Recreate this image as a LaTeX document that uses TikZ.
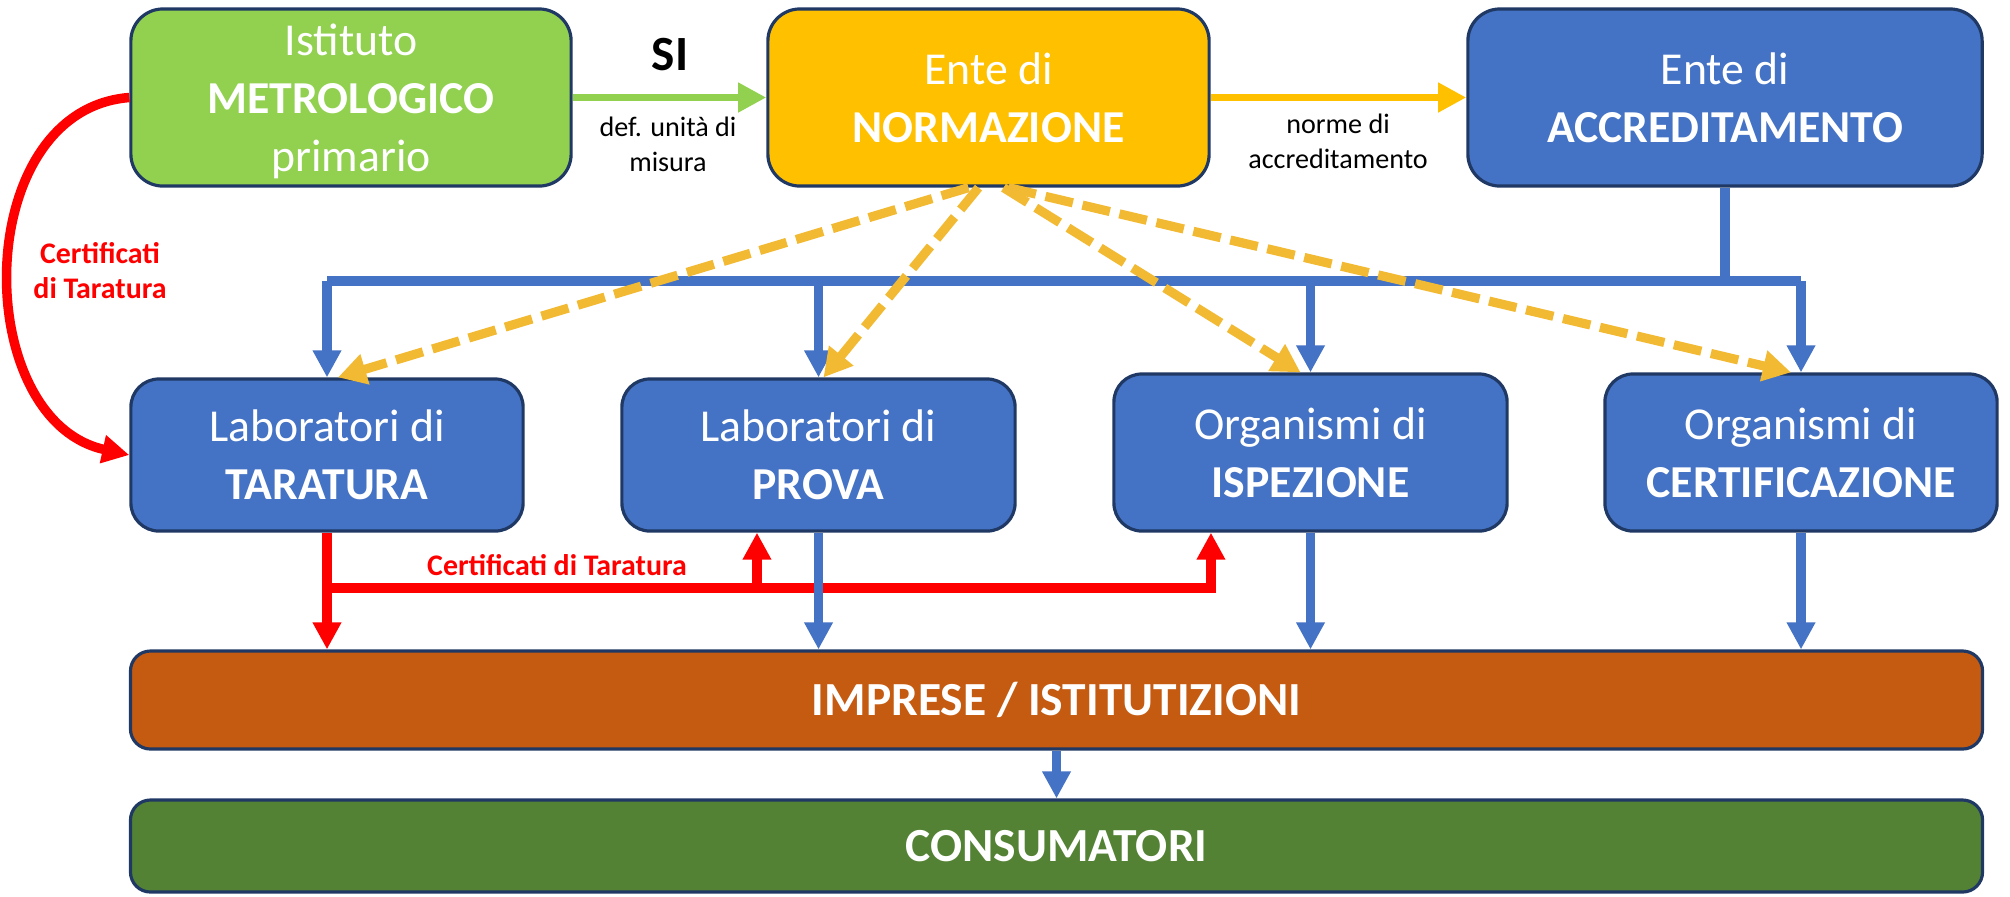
\documentclass[tikz,border=0pt]{standalone}
\usepackage{fontspec}
\setmainfont{Carlito}
\usepackage{tikz}
\usetikzlibrary{arrows.meta,positioning,calc}
\definecolor{istgreen}{HTML}{92D050}
\definecolor{normorange}{HTML}{FFC000}
\definecolor{accblue}{HTML}{4472C4}
\definecolor{impbrown}{HTML}{C55A11}
\definecolor{congreen}{HTML}{548235}
\definecolor{boxline}{HTML}{1F3864}
\definecolor{dashyellow}{HTML}{F2B933}
\definecolor{certred}{HTML}{FF0000}
\tikzstyle{box}=[draw=boxline, line width=0.9pt, rounded corners=0.32cm, text=white, align=center, inner sep=0pt, font=\fontsize{13}{16.5}\selectfont]
\tikzstyle{smalltext}=[align=center, inner sep=0pt, font=\fontsize{8}{10}\selectfont]

\begin{document}
\begin{tikzpicture}[x=0.01cm,y=-0.01cm,
  bluearr/.style={accblue, line width=2.6pt, -{Triangle[length=7.7pt,width=7.7pt]}},
  redarr/.style={certred, line width=2.7pt, -{Triangle[length=7.7pt,width=7.7pt]}},
  normarr/.style={dashyellow, line width=2.6pt, dash pattern=on 8pt off 2.8pt, -{Triangle[length=8pt,width=8.5pt]}},
  redlabel/.style={certred, align=center, inner sep=0pt, font=\fontsize{8.5}{10}\selectfont\bfseries}]
\useasboundingbox (0,0) rectangle (2010,896);
% top row
\node (ist) at (351,97.5) [box, fill=istgreen, minimum width=4.4cm, minimum height=1.77cm, text depth=0pt] {Istituto\\\textbf{METROLOGICO}\\primario};
\node (nor) at (988.5,97.5) [box, fill=normorange, minimum width=4.41cm, minimum height=1.77cm] {Ente di\\\textbf{NORMAZIONE}};
\node (acc) at (1725,97.5) [box, fill=accblue, minimum width=5.14cm, minimum height=1.77cm] {Ente di\\\textbf{ACCREDITAMENTO}};
% middle row
\node (tar) at (327,455) [box, fill=accblue, rounded corners=0.28cm, minimum width=3.92cm, minimum height=1.52cm] {Laboratori di\\\textbf{TARATURA}};
\node (pro) at (818.5,455) [box, fill=accblue, rounded corners=0.28cm, minimum width=3.93cm, minimum height=1.52cm] {Laboratori di\\\textbf{PROVA}};
\node (isp) at (1310.5,452.5) [box, fill=accblue, rounded corners=0.28cm, minimum width=3.93cm, minimum height=1.57cm] {Organismi di\\\textbf{ISPEZIONE}};
\node (cer) at (1801,452.5) [box, fill=accblue, rounded corners=0.28cm, minimum width=3.92cm, minimum height=1.57cm] {Organismi di\\\textbf{CERTIFICAZIONE}};
% bottom rows
\node (imp) at (1056.5,700) [box, fill=impbrown, rounded corners=0.2cm, minimum width=18.51cm, minimum height=0.98cm, font=\fontsize{13.5}{16}\selectfont\bfseries] {IMPRESE / ISTITUTIZIONI};
\node (con) at (1056.5,846) [box, fill=congreen, rounded corners=0.2cm, minimum width=18.51cm, minimum height=0.92cm, font=\fontsize{13.5}{16}\selectfont\bfseries] {CONSUMATORI};
% labels
\node (si) at (670,55) [inner sep=0pt, font=\fontsize{14}{16}\selectfont\bfseries] {SI};
\node (defu) at (668,144) [smalltext] {def. unità di\\misura};
\node (norme) at (1338,141) [smalltext] {norme di\\accreditamento};
\node (certL) at (100,271) [redlabel] {Certificati\\di Taratura};
\node (certB) at (557,565) [redlabel] {Certificati di Taratura};
\coordinate (bus) at (0,281);
\coordinate (redbus) at (0,588);

\draw[istgreen, line width=2.1pt, -{Triangle[length=8pt,width=8pt]}] (ist.east) -- (nor.west);
\draw[normorange, line width=2.1pt, -{Triangle[length=8pt,width=8pt]}] (nor.east) -- (acc.west);

% accreditamento
\draw[accblue, line width=2.6pt] (acc.south) -- (acc.south |- bus);
\draw[accblue, line width=2.6pt] (tar.north |- bus) -- (cer.north |- bus);
\foreach \n in {tar,pro,isp,cer}
  \draw[bluearr] (\n.north |- bus) -- (\n.north);

% normazione
\draw[normarr] ([xshift=-0.2cm]nor.south) -- ([xshift=0.11cm]tar.north);
\draw[normarr] ([xshift=-0.1cm]nor.south) -- ([xshift=0.05cm]pro.north);
\draw[normarr] ([xshift=0.15cm]nor.south) -- ([xshift=-0.1cm]isp.north);
\draw[normarr] ([xshift=0.2cm]nor.south) -- ([xshift=-0.1cm]cer.north);

% certificati
\draw[redarr] (ist.west) .. controls (-30,110) and (-30,420) .. (tar.west);
\draw[redarr] (tar.south) -- (tar.south |- imp.north);
\draw[redarr] (tar.south |- redbus) -| ([xshift=-0.995cm]isp.south);
\draw[redarr] ([xshift=-0.615cm]pro.south |- redbus) -- ([xshift=-0.615cm]pro.south);

\foreach \n in {pro,isp,cer}
  \draw[bluearr] (\n.south) -- (\n.south |- imp.north);
\draw[bluearr] (imp.south) -- (con.north);
\end{tikzpicture}
\end{document}
